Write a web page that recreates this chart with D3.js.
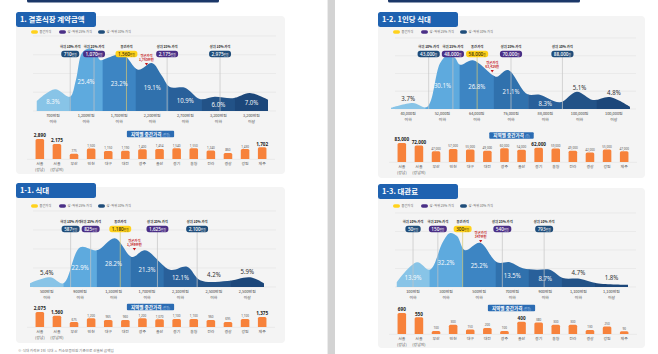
<!DOCTYPE html>
<html>
<head>
<meta charset="utf-8">
<script src="https://cdn.jsdelivr.net/npm/d3@7"></script>
<style>
  body { margin: 0; background: #fff; }
  svg { display: block; }
</style>
</head>
<body>
<script>
// ---- shared labels ----
const regions = ['서울|(강남)', '서울|(강남외)', '부산', '인천', '대구', '대전', '광주', '울산', '경기', '충청', '전라', '경상', '강원', '제주'];
const markNames = ['하위 10% 가격', '하위 25% 가격', '중간가격', '상위 25% 가격', '상위 10% 가격'];
const legendNames = ['중간가격', '상·하위 25% 가격', '상·하위 10% 가격'];

// ---- 1. 결혼식장 계약금액 (만원) ----
const totalBins = ['700만원|이하', '1,200만원|이하', '1,700만원|이하', '2,200만원|이하', '2,700만원|이하', '3,200만원|이하', '3,200만원|이상'];
const totalEdges = [200, 700, 1200, 1700, 2200, 2700, 3200, 3700];
const totalShare = [8.3, 25.4, 23.2, 19.1, 10.9, 6.0, 7.0];
const totalMarks = [710, 1070, 1560, 2175, 2975];
const totalAvg = 1765;
const totalRegion = [2890, 2175, 775, 1500, 1150, 1190, 1400, 1454, 1540, 1550, 1240, 860, 1430, 1702];
// outline of the distribution: [bin position, relative height]
const totalCurve = [[0, 13], [0.56, 29], [1.01, 19], [1.19, 41], [1.37, 77], [1.56, 83], [1.77, 81], [1.92, 68], [2.16, 71], [2.61, 76], [3.07, 55], [3.49, 64], [3.79, 47], [4.03, 32], [4.49, 31], [4.94, 16], [5.39, 19], [5.94, 17], [6.45, 24], [7, 15]];

// ---- 1-1. 식대 (만원) ----
const mealBins = ['500만원|이하', '900만원|이하', '1,300만원|이하', '1,700만원|이하', '2,100만원|이하', '2,500만원|이하', '2,500만원|이상'];
const mealEdges = [100, 500, 900, 1300, 1700, 2100, 2500, 2900];
const mealShare = [5.4, 22.9, 28.2, 21.3, 12.1, 4.2, 5.9];
const mealMarks = [587, 825, 1180, 1625, 2100];
const mealAvg = 1349;
const mealRegion = [2075, 1560, 675, 1200, 965, 960, 1200, 1070, 1100, 1100, 960, 695, 1100, 1375];
const mealCurve = [[0, 5], [0.6, 13], [1.0, 5], [1.5, 53], [2.0, 49], [2.54, 65], [3.05, 40], [3.44, 49], [4.19, 23], [4.7, 27], [5.09, 9], [5.9, 8], [6.59, 13], [7, 5]];

// ---- 1-2. 1인당 식대 (원) ----
const perBins = ['40,000원|이하', '52,000원|이하', '64,000원|이하', '76,000원|이하', '88,000원|이하', '100,000원|이하', '100,000원|이상'];
const perEdges = [28000, 40000, 52000, 64000, 76000, 88000, 100000, 112000];
const perShare = [3.7, 30.1, 26.8, 21.1, 8.3, 5.1, 4.8];
const perMarks = [43000, 48000, 58000, 70000, 88000];
const perAvg = 63426;
const perRegion = [83000, 72000, 47000, 57000, 55000, 49000, 60000, 54000, 62000, 59000, 49000, 42000, 55000, 47000];
const perCurve = [[0, 1.5], [0.64, 8], [1.05, 2.7], [1.43, 61], [1.66, 72], [1.87, 68], [2.01, 59], [2.39, 65], [2.97, 45], [3.09, 43], [3.41, 52], [3.97, 20], [4.34, 19], [4.93, 9], [5.42, 23], [5.89, 12], [6.38, 16], [6.97, 3]];

// ---- 1-3. 대관료 (만원) ----
const hallBins = ['100만원|이하', '300만원|이하', '500만원|이하', '700만원|이하', '900만원|이하', '1,100만원|이하', '1,100만원|이상'];
const hallEdges = [0, 100, 300, 500, 700, 900, 1100, 1300];
const hallShare = [13.9, 32.2, 25.2, 13.5, 8.7, 4.7, 1.8];
const hallMarks = [50, 150, 300, 540, 793];
const hallAvg = 347;
const hallRegion = [690, 550, 100, 300, 150, 200, 100, 400, 380, 300, 300, 130, 250, 90];
const hallCurve = [[0, 6], [0.62, 33], [1.01, 23], [1.4, 60], [1.62, 72], [1.83, 68], [2.07, 49], [2.52, 59], [3.04, 33], [3.43, 33], [3.82, 25], [4.24, 23], [4.64, 23], [5.03, 12], [5.54, 11], [6.06, 5], [7, 3]];

// ---- styles ----
const KR = "'Noto Sans CJK KR','Noto Sans',sans-serif";
const NUM = "'Noto Sans',sans-serif";
const binColors = ['#88c4e7', '#5eaade', '#3d85c3', '#3071ad', '#29609a', '#225287', '#1c477a'];
const markColors = ['#1f4d7a', '#4a2f86', '#ffd21c', '#4a2f86', '#1f4d7a'];
const legendColors = ['#ffd21c', '#4a2f86', '#1f4d7a'];
const fmt = d3.format(',');

const panels = [
  { title: '1. 결혼식장 계약금액', bins: totalBins, edges: totalEdges, share: totalShare, marks: totalMarks, avg: totalAvg, region: totalRegion, curve: totalCurve, unit: '만원', badgeUnit: '(만원)',
    x: 16, top: 12, w: 269, bottom: 174, area: [36.5, 268], base: 111, gs: 18.75, legendY: 32, markY: 47, avgY: 57, badgeY: 134, barBase: 159, barH: 20 },
  { title: '1-1. 식대', bins: mealBins, edges: mealEdges, share: mealShare, marks: mealMarks, avg: mealAvg, region: mealRegion, curve: mealCurve, unit: '만원', badgeUnit: '(만원)',
    x: 16, top: 183, w: 269, bottom: 343, area: [30, 264], base: 287, gs: 19, legendY: 206, markY: 222, avgY: 242, badgeY: 307, barBase: 327, barH: 15 },
  { title: '1-2. 1인당 식대', bins: perBins, edges: perEdges, share: perShare, marks: perMarks, avg: perAvg, region: perRegion, curve: perCurve, unit: '원', badgeUnit: '(원)',
    x: 378, top: 12, w: 267, bottom: 178, area: [391, 631], base: 109, gs: 17.75, legendY: 32, markY: 47, avgY: 64, badgeY: 135.5, barBase: 162, barH: 19 },
  { title: '1-3. 대관료', bins: hallBins, edges: hallEdges, share: hallShare, marks: hallMarks, avg: hallAvg, region: hallRegion, curve: hallCurve, unit: '만원', badgeUnit: '(만원)',
    x: 378, top: 184, w: 267, bottom: 348, area: [396.5, 628], base: 287, gs: 18.5, legendY: 206, markY: 222, avgY: 234, badgeY: 308, barBase: 334, barH: 21 }
];

const svg = d3.select('body').append('svg').attr('width', 658).attr('height', 354);
svg.append('rect').attr('width', 658).attr('height', 354).attr('fill', '#fff');
// page gutter and the cut-off banners at the top
svg.append('rect').attr('x', 328).attr('y', 0).attr('width', 7).attr('height', 354).attr('fill', '#d3d3d3');
svg.append('rect').attr('x', 327).attr('y', 0).attr('width', 1).attr('height', 354).attr('fill', '#ececec');
[27, 388].forEach(bx => {
  svg.append('rect').attr('x', bx).attr('y', -3).attr('width', 192).attr('height', 5.5).attr('rx', 1.5).attr('fill', '#1b3768');
});

// height of the outline at a bin position (linear between read points)
function heightAt(curve, u) {
  const i = d3.bisector(d => d[0]).left(curve, u);
  if (i <= 0) return curve[0][1];
  if (i >= curve.length) return curve[curve.length - 1][1];
  const a = curve[i - 1], b = curve[i];
  return a[1] + (b[1] - a[1]) * (u - a[0]) / (b[0] - a[0]);
}

function twoLines(sel, str, x, y, gap) {
  str.split('|').forEach((t, k) => sel.append('tspan').attr('x', x).attr('y', y + k * gap).text(t));
}

// narrow numerals: text squeezed horizontally around its anchor
function narrow(g, x, y, sx) {
  return g.append('text').attr('transform', `translate(${x},${y}) scale(${sx},1)`).attr('text-anchor', 'middle');
}

panels.forEach((p, pi) => {
  const g = svg.append('g');

  // card
  g.append('rect').attr('x', p.x).attr('y', p.top + 4).attr('width', p.w).attr('height', p.bottom - p.top - 4)
    .attr('rx', 4).attr('fill', '#f4f4f4');

  // grid
  g.selectAll('line.grid').data(d3.range(5)).join('line')
    .attr('x1', p.x + 17).attr('x2', p.x + p.w - 9)
    .attr('y1', k => p.base - k * p.gs).attr('y2', k => p.base - k * p.gs)
    .attr('stroke', '#e2e2e2').attr('stroke-width', 0.6);

  // title tab
  g.append('rect').attr('x', p.x).attr('y', p.top).attr('width', 80).attr('height', 15).attr('rx', 2.5).attr('fill', '#1f62b0');
  g.append('text').attr('x', p.x + 4).attr('y', p.top + 10.3).attr('font-family', KR).attr('font-weight', 700)
    .attr('font-size', 7.4).attr('fill', '#fff').text(p.title);

  // legend
  const lx = [15, 43, 82];
  legendNames.forEach((n, k) => {
    g.append('rect').attr('x', p.x + lx[k]).attr('y', p.legendY - 1.8).attr('width', 7).attr('height', 3.6).attr('rx', 1.8).attr('fill', legendColors[k]);
    g.append('text').attr('x', p.x + lx[k] + 8.5).attr('y', p.legendY + 1.1).attr('font-family', KR).attr('font-size', 3.2)
      .attr('fill', '#666').text(n);
  });

  // distribution area, split into bins
  const bx = d3.scaleLinear().domain([0, 7]).range(p.area);
  const y = d3.scaleLinear().domain([0, 100]).range([p.base, p.base - 75]);
  const area = d3.area().x(d => bx(d[0])).y0(p.base).y1(d => y(d[1])).curve(d3.curveCatmullRom.alpha(0.5));
  const clipId = 'clip' + pi;
  g.append('clipPath').attr('id', clipId).append('path').attr('d', area(p.curve));
  g.append('g').attr('clip-path', `url(#${clipId})`)
    .selectAll('rect').data(p.share).join('rect')
    .attr('x', (d, i) => bx(i)).attr('width', (d, i) => bx(i + 1) - bx(i) + 0.4)
    .attr('y', p.base - 100).attr('height', 100)
    .attr('fill', (d, i) => binColors[i]);

  // percentile markers: value -> bin axis, then spread so the pills don't collide
  const mx = d3.scaleLinear().domain(p.edges).range(d3.range(8).map(bx)).clamp(true);
  const sx = 0.84;
  const pills = p.marks.map((v, k) => {
    const pg = g.append('g');
    const t = pg.append('text').attr('text-anchor', 'middle').attr('y', 2).attr('fill', k === 2 ? '#3a2a00' : '#fff');
    t.append('tspan').attr('font-family', NUM).attr('font-size', 5.6).attr('font-weight', 500).text(fmt(v));
    t.append('tspan').attr('font-family', KR).attr('font-size', 3.2).text(p.unit);
    const tw = t.node().getComputedTextLength() + 6;
    pg.insert('rect', 'text').attr('x', -tw / 2).attr('y', -3.2).attr('width', tw).attr('height', 6.4).attr('rx', 3.2).attr('fill', markColors[k]);
    return { g: pg, x: mx(v), w: tw * sx };
  });
  for (let it = 0; it < 30; it++) {
    for (let k = 1; k < pills.length; k++) {
      const need = (pills[k - 1].w + pills[k].w) / 2 + 2;
      const gap = pills[k].x - pills[k - 1].x;
      if (gap < need) { const d = (need - gap) / 2; pills[k - 1].x -= d; pills[k].x += d; }
    }
  }
  pills.forEach((pl, k) => {
    g.insert('line', ':first-child').attr('x1', pl.x).attr('x2', pl.x).attr('y1', p.markY + 10).attr('y2', p.base)
      .attr('stroke', k === 2 ? '#d8c873' : '#c6c6c6').attr('stroke-width', 0.7);
    pl.g.attr('transform', `translate(${pl.x},${p.markY + 7}) scale(${sx},1)`);
    g.append('text').attr('x', pl.x).attr('y', p.markY + 1.2).attr('text-anchor', 'middle')
      .attr('font-family', KR).attr('font-weight', 700).attr('font-size', 3.3).attr('fill', '#222').text(markNames[k]);
  });
  // keep marker lines above the card and area but under the labels
  g.selectAll('line').filter(function () { return this.parentNode === g.node() && +this.getAttribute('y2') === p.base && this.getAttribute('x1') === this.getAttribute('x2'); })
    .raise();
  pills.forEach(pl => pl.g.raise());

  // share labels
  p.share.forEach((s, i) => {
    const c = bx(i + 0.5);
    const top = y(heightAt(p.curve, i + 0.5));
    const dark = s < 6;
    narrow(g, c, dark ? top - 3.5 : (p.base + top) / 2 + 3, 0.78)
      .attr('font-family', NUM).attr('font-size', 7.8)
      .attr('fill', dark ? '#333' : '#fff').attr('opacity', dark ? 1 : 0.93)
      .text(s.toFixed(1) + '%');
  });

  // average
  const med = pills[2];
  let ax = mx(p.avg);
  if (p.avgY - 3 < p.markY + 10.4 && ax < med.x + med.w / 2 + 9) ax = med.x + med.w / 2 + 9;
  const at = g.append('text').attr('text-anchor', 'middle').attr('font-family', KR).attr('font-size', 3.3)
    .attr('font-weight', 700).attr('fill', '#c4161c');
  twoLines(at, '평균가격|' + fmt(p.avg) + p.unit, ax, p.avgY, 4.3);
  g.append('path').attr('d', `M${ax - 1.6},${p.avgY + 6}L${ax + 1.6},${p.avgY + 6}L${ax},${p.avgY + 8.4}Z`).attr('fill', '#c4161c');

  // bin labels
  p.bins.forEach((b, i) => {
    const t = g.append('text').attr('text-anchor', 'middle').attr('font-family', KR).attr('font-size', 3.9).attr('fill', '#444');
    twoLines(t, b, bx(i + 0.5), p.base + 6, 6.2);
  });

  // badge
  const cx = p.x + p.w / 2;
  const bt = g.append('text').attr('x', cx).attr('y', p.badgeY + 1.7).attr('text-anchor', 'middle').attr('fill', '#fff');
  bt.append('tspan').attr('font-family', KR).attr('font-weight', 700).attr('font-size', 4.6).text('지역별 중간가격 ');
  bt.append('tspan').attr('font-family', KR).attr('font-size', 3).attr('fill', '#b9d3f0').text(p.badgeUnit);
  const bw = bt.node().getComputedTextLength() + 8;
  g.insert('rect', () => bt.node()).attr('x', cx - bw / 2).attr('y', p.badgeY - 3.3).attr('width', bw).attr('height', 6.6)
    .attr('rx', 1).attr('fill', '#2b6cb3');

  // regional bars
  const band = d3.scaleBand().domain(regions).range([p.x + 11, p.x + 259]).padding(0.5);
  const by = d3.scaleLinear().domain([0, d3.max(p.region)]).range([p.barBase, p.barBase - p.barH]);
  const top3 = p.region.slice().sort((a, b) => b - a)[2];
  g.append('line').attr('x1', p.x + 11).attr('x2', p.x + 259).attr('y1', p.barBase + 0.3).attr('y2', p.barBase + 0.3)
    .attr('stroke', '#dedede').attr('stroke-width', 0.5);
  g.selectAll('path.bar').data(p.region).join('path')
    .attr('d', (d, i) => {
      const x0 = band(regions[i]), w = band.bandwidth(), y0 = by(d), r = 1.5;
      return `M${x0},${p.barBase}V${y0 + r}Q${x0},${y0} ${x0 + r},${y0}H${x0 + w - r}Q${x0 + w},${y0} ${x0 + w},${y0 + r}V${p.barBase}Z`;
    })
    .attr('fill', '#f7823b');
  p.region.forEach((d, i) => {
    const big = d >= top3;
    const c = band(regions[i]) + band.bandwidth() / 2;
    narrow(g, c, by(d) - 1.6, big ? 0.8 : 0.85).attr('font-family', NUM)
      .attr('font-size', big ? 5.8 : 3.6).attr('font-weight', big ? 700 : 400).attr('fill', big ? '#222' : '#555')
      .text(fmt(d));
    const t = g.append('text').attr('text-anchor', 'middle').attr('font-family', KR).attr('font-size', 3.9).attr('fill', '#555');
    twoLines(t, regions[i], c, p.barBase + 5.6, 6.4);
  });
});

svg.append('text').attr('x', 18).attr('y', 352).attr('font-family', KR).attr('font-size', 3.6).attr('fill', '#777')
  .text('※ 식대 가격은 1인 식대 × 최소보증인원 기준으로 산출된 금액임');
</script>
</body>
</html>
